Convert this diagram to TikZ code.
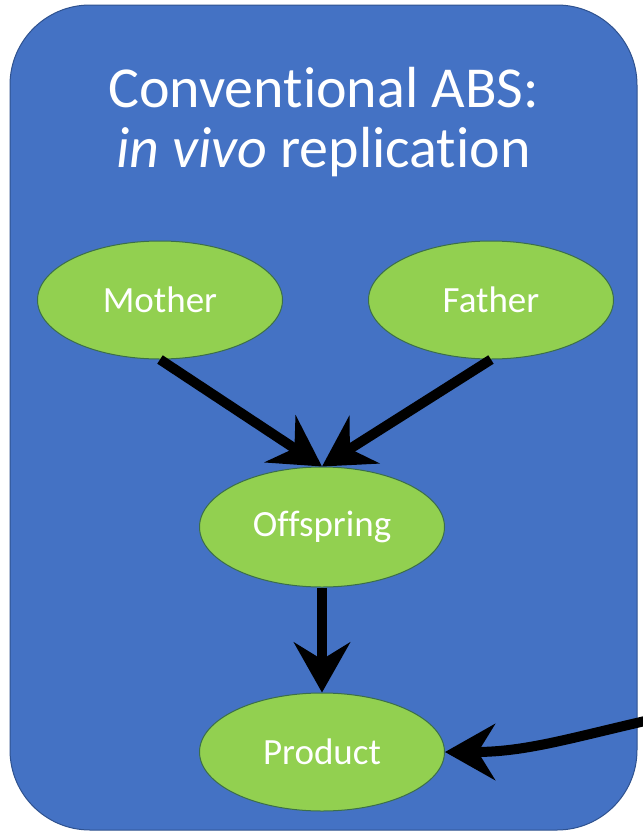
\documentclass[tikz,border=0pt]{standalone}
\usepackage{fontspec}
\setmainfont[Ligatures=NoCommon]{Carlito}
\usetikzlibrary{arrows.meta,shapes.geometric}
\definecolor{boxblue}{HTML}{4472C4}
\definecolor{boxedge}{HTML}{2F528F}
\definecolor{leaf}{HTML}{92D050}
\definecolor{leafedge}{HTML}{3B6E4A}
\begin{document}
\begin{tikzpicture}[x=1pt,y=1pt,
  oval/.style={ellipse, fill=leaf, draw=leafedge, line width=1pt,
    minimum width=245pt, minimum height=118pt, inner sep=0pt,
    text=white, font=\fontsize{37}{44}\selectfont},
  title/.style={text=white, font=\fontsize{58}{68}\selectfont, anchor=base, inner sep=0pt},
  bigarrow/.style={line width=10pt, -{Stealth[length=50pt, width=56pt, inset=17pt]}}
]
\useasboundingbox (0,0) rectangle (643,-836);
\fill[white] (0,0) rectangle (643,-836);
\draw[fill=boxblue, draw=boxedge, line width=1pt, rounded corners=80pt] (10,-5) rectangle (637,-830);

\node[title] (t1) at (323.5,-107) {Conventional ABS:};
\node[title] (t2) at (323.5,-167) {\textit{in vivo} replication};

\node[oval] (mother) at (160,-300) {Mother};
\node[oval] (father) at (491,-300) {Father};
\node[oval, minimum height=120pt] (offspring) at (322,-527) {Offspring};
\node[oval] (product) at (322,-752) {Product};

\coordinate (ext) at (645,-721);

\draw[bigarrow] (mother.south) -- (offspring.north);
\draw[bigarrow] (father.south) -- (offspring.north);
\draw[bigarrow] (offspring.south) -- (product.north);
\draw[bigarrow] (ext) to[out=193, in=0] (product.east);
\end{tikzpicture}
\end{document}
